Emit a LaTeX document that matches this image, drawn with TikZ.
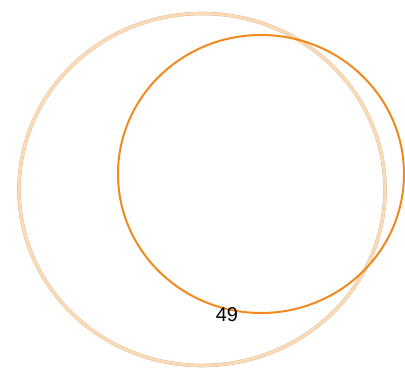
\documentclass[tikz,border=0pt]{standalone}
\usepackage{fontspec}
\setmainfont{Liberation Sans}
\usepackage{tikz}
\usetikzlibrary{shapes.geometric, positioning}
\definecolor{VennPeach}{RGB}{253, 218, 178}
\definecolor{VennOrange}{RGB}{240, 138, 30}
\definecolor{VennEdge}{RGB}{200, 185, 170}

\begin{document}
\begin{tikzpicture}[x=1pt, y=-1pt,
    outerset/.style={ellipse, draw=VennEdge, line width=0.3pt,
      double=VennPeach, double distance=3pt, inner sep=0pt},
    innerset/.style={ellipse, draw=VennOrange, line width=2pt, inner sep=0pt},
    countlabel/.style={font=\fontsize{20}{21}\selectfont, text=black, inner sep=0pt}
  ]
    \useasboundingbox (0,0) rectangle (405,369);
    \node[outerset, minimum width=366pt, minimum height=352pt] (setA) at (202,189.5) {};
    \node[innerset, minimum width=286pt, minimum height=278pt] (setB) at (261,174) {};
    \node[countlabel] (countA) at (227,315) {49};
  \end{tikzpicture}
\end{document}
